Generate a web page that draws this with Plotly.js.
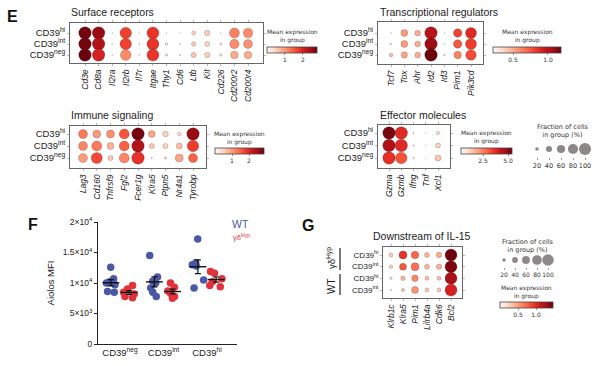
<!DOCTYPE html>
<html><head><meta charset="utf-8">
<script src="https://cdn.plot.ly/plotly-3.0.1.min.js"></script>
<style>html,body{margin:0;padding:0;background:#fff}#chart{width:609px;height:366px}</style>
</head><body><div id="chart"></div>
<script>
// ---------------- DATA ----------------
const rowsE = ['CD39<sup>hi</sup>', 'CD39<sup>int</sup>', 'CD39<sup>neg</sup>'];

const surfGenes = ['Cd3e','Cd8a','Il2ra','Il2rb','Il7r','Itgae','Thy1','Cd6','Ltb','Kit','Cd226','Cd200r2','Cd200r4'];
const surfMean = [
  [2.7, 2.5, 0.1, 1.7, 0.1, 1.8, 0.2, 0.1, 0.5, 0.5, 0.2, 1.2, 1.1],
  [2.7, 2.3, 0.1, 1.7, 0.1, 1.8, 0.3, 0.1, 0.55, 0.45, 0.3, 1.1, 1.05],
  [2.75, 2.0, 0.1, 1.1, 0.1, 1.8, 0.3, 0.2, 0.6, 0.5, 0.3, 0.85, 0.85]
];
const surfFrac = [
  [100, 100, 3, 90, 2, 95, 3, 2, 22, 35, 2, 75, 70],
  [100, 100, 3, 90, 4, 95, 12, 4, 25, 30, 10, 68, 65],
  [100, 100, 3, 82, 3, 95, 12, 5, 30, 32, 12, 52, 52]
];

const tfGenes = ['Tcf7','Tox','Ahr','Id2','Id3','Pim1','Pik3cd'];
const tfMean = [
  [0.25, 0.55, 0.5, 1.0, 0.25, 0.8, 0.88],
  [0.3, 0.55, 0.5, 1.08, 0.28, 0.75, 0.82],
  [0.45, 0.52, 0.5, 1.18, 0.35, 0.62, 0.78]
];
const tfFrac = [
  [3, 45, 35, 100, 2, 60, 85],
  [6, 45, 35, 100, 3, 60, 85],
  [20, 40, 35, 100, 7, 50, 80]
];

const imGenes = ['Lag3','Cd160','Tnfrsf9','Fgl2','Fcer1g','Klra5','Ptpn5','Nr4a1','Tyrobp'];
const imMean = [
  [1.3, 1.0, 1.1, 1.6, 2.8, 0.9, 0.5, 0.4, 2.6],
  [1.2, 1.3, 0.8, 1.5, 2.4, 0.6, 0.5, 0.7, 1.8],
  [1.0, 1.7, 0.6, 1.2, 1.9, 0.3, 0.4, 0.9, 1.5]
];
const imFrac = [
  [65, 55, 55, 75, 100, 45, 35, 20, 100],
  [65, 75, 45, 75, 100, 30, 30, 38, 90],
  [65, 85, 30, 75, 100, 5, 10, 55, 65]
];

const efGenes = ['Gzma','Gzmb','Ifng','Tnf','Xcl1'];
const efMean = [
  [5.2, 3.8, 0.5, 0.4, 1.0],
  [4.6, 3.8, 0.6, 0.4, 1.2],
  [3.7, 3.2, 0.6, 0.4, 1.4]
];
const efFrac = [
  [100, 100, 5, 2, 18],
  [100, 100, 6, 2, 30],
  [100, 90, 6, 2, 38]
];

const legendFractions = [20, 40, 60, 80, 100];

// Panel F: Aiolos MFI
const fCategories = ['CD39<sup>neg</sup>', 'CD39<sup>int</sup>', 'CD39<sup>hi</sup>'];
const aiolosWT = [
  [12600, 10700, 10200, 10000, 9700, 8600, 8500],
  [14500, 11000, 10300, 10000, 9200, 8500, 7800],
  [17200, 13300, 13000, 12800, 10500, 9200]
];
const aiolosHyp = [
  [9600, 9000, 8500, 8200, 7800, 7600],
  [10000, 9300, 8700, 8300, 7800, 7500],
  [11900, 11600, 10700, 10200, 9600, 9400]
];

// Panel G: Downstream of IL-15
const gGenes = ['Klrb1c','Klra5','Pim1','Lilrb4a','Cdk6','Bcl2'];
const gRows = ['CD39<sup>hi</sup>', 'CD39<sup>int</sup>', 'CD39<sup>hi</sup>', 'CD39<sup>int</sup>'];
const gMean = [
  [0.3, 0.95, 0.75, 0.4, 0.45, 1.45],
  [0.3, 0.8, 0.7, 0.4, 0.4, 1.4],
  [0.2, 0.4, 0.6, 0.35, 0.35, 1.25],
  [0.15, 0.35, 0.55, 0.3, 0.3, 1.05]
];
const gFrac = [
  [23, 58, 53, 31, 35, 100],
  [19, 49, 58, 31, 35, 100],
  [12, 27, 44, 23, 23, 100],
  [6, 16, 49, 23, 23, 100]
];

// ---------------- STYLE / LAYOUT ----------------
const W = 609, H = 366;
const X = p => p / W;
const Y = p => 1 - p / H;
const REDS = [[0,'#fff5f0'],[0.125,'#fee0d2'],[0.25,'#fcbba1'],[0.375,'#fc9272'],[0.5,'#fb6a4a'],[0.625,'#ef3b2c'],[0.75,'#cb181d'],[0.875,'#a50f15'],[1,'#67000d']];
const BLUE = '#4a58a6', RED = '#e3313c';
const SMALLFONT = 'DejaVu Sans';

function dotSize(frac, maxD) { return maxD * Math.pow(frac / 100, 0.75); }

const traces = [];
const layout = {
  width: W, height: H, margin: {l:0, r:0, t:0, b:0},
  paper_bgcolor: '#fff', plot_bgcolor: 'rgba(0,0,0,0)',
  showlegend: false, boxmode: 'overlay',
  font: {family: 'Liberation Sans, Arial, sans-serif', color: '#222'},
  annotations: [], shapes: []
};

function axRange(lo, hi, first, last, n) {
  const s = (last - first) / (n - 1);
  return [-(first - lo) / s, (n - 1) + (hi - last) / s];
}

function dotPanel(k, genes, rowLabels, mean, frac, g, cb, maxD, rowFont) {
  const xa = 'xaxis' + (k === 1 ? '' : k), ya = 'yaxis' + (k === 1 ? '' : k);
  const xs = 'x' + (k === 1 ? '' : k), ys = 'y' + (k === 1 ? '' : k);
  const xr = axRange(g.l, g.r, g.c0, g.c1, genes.length);
  const yr0 = axRange(g.t, g.b, g.r0, g.r1, rowLabels.length);
  layout[xa] = {
    domain: [X(g.l), X(g.r)], range: xr, anchor: ys,
    tickmode: 'array', tickvals: genes.map((_, i) => i),
    ticktext: genes.map(s => '<i>' + s + '</i>'),
    tickangle: -90, tickfont: {size: 8.5, color: '#222'},
    showline: true, mirror: 'ticks', linecolor: '#666', linewidth: 1,
    ticks: 'outside', ticklen: 2, tickcolor: '#888', tickwidth: 0.6,
    showgrid: false, zeroline: false, fixedrange: true
  };
  layout[ya] = {
    domain: [Y(g.b), Y(g.t)], range: [yr0[1], yr0[0]], anchor: xs,
    tickmode: 'array', tickvals: rowLabels.map((_, i) => i), ticktext: rowLabels,
    tickfont: {size: rowFont, color: '#222'},
    showline: true, mirror: 'ticks', linecolor: '#666', linewidth: 1,
    ticks: 'outside', ticklen: 2, tickcolor: '#888', tickwidth: 0.6,
    showgrid: false, zeroline: false, fixedrange: true
  };
  const x = [], y = [], c = [], s = [];
  mean.forEach((row, r) => row.forEach((v, i) => {
    x.push(i); y.push(r); c.push(v); s.push(dotSize(frac[r][i], maxD));
  }));
  traces.push({
    type: 'scatter', mode: 'markers', xaxis: xs, yaxis: ys, x, y,
    hoverinfo: 'skip', cliponaxis: false,
    marker: {
      color: c, cmin: cb.cmin, cmax: cb.cmax, colorscale: REDS, size: s,
      line: {width: 0.4, color: 'rgba(0,0,0,0.45)'}, opacity: 1,
      showscale: true,
      colorbar: {
        orientation: 'h', x: X(cb.x), xanchor: 'left', y: Y(cb.y), yanchor: 'top',
        len: cb.len, lenmode: 'pixels', thickness: 6, thicknessmode: 'pixels',
        xpad: 0, ypad: 0, outlinewidth: 0.8, outlinecolor: '#444',
        tickmode: 'array', tickvals: cb.ticks, ticktext: cb.ticktext,
        ticks: 'outside', ticklen: 2, tickwidth: 0.6, tickcolor: '#444',
        tickfont: {size: 6, family: SMALLFONT, color: '#333'}, title: {text: ''}
      }
    }
  });
  layout.annotations.push({
    xref: 'paper', yref: 'paper', x: X(cb.x + cb.len / 2), y: Y(cb.ty),
    xanchor: 'center', yanchor: 'middle', showarrow: false,
    text: 'Mean expression<br>in group', font: {size: 6, family: SMALLFONT, color: '#333'}
  });
}

// Panel E dotplots
dotPanel(1, surfGenes, rowsE, surfMean, surfFrac,
  {l:70, r:263, t:23, b:63, c0:85, c1:248, r0:33, r1:55},
  {cmin:0, cmax:2.78, x:267, y:47, len:50, ty:36, ticks:[1,2], ticktext:['1','2']}, 12.5, 9.5);
dotPanel(2, tfGenes, rowsE, tfMean, tfFrac,
  {l:378, r:483, t:22, b:64, c0:391, c1:471, r0:33, r1:55},
  {cmin:0.214, cmax:1.186, x:493, y:47, len:68, ty:36, ticks:[0.5,1.0], ticktext:['0.5','1.0']}, 12.5, 9.5);
dotPanel(3, imGenes, rowsE, imMean, imFrac,
  {l:70, r:206, t:126, b:168, c0:83, c1:193, r0:134, r1:158},
  {cmin:0, cmax:2.88, x:215, y:148, len:49, ty:138, ticks:[1,2], ticktext:['1','2']}, 12.5, 9.5);
dotPanel(4, efGenes, rowsE, efMean, efFrac,
  {l:378, r:450, t:125, b:168, c0:389, c1:438, r0:133, r1:158},
  {cmin:0.3, cmax:5.4, x:461, y:148, len:51, ty:136.5, ticks:[2.5,5.0], ticktext:['2.5','5.0']}, 12.5, 9.5);

// Panel G dotplot
dotPanel(7, gGenes, gRows, gMean, gFrac,
  {l:383, r:462, t:247, b:298, c0:391, c1:451, r0:255, r1:290},
  {cmin:0, cmax:1.47, x:500, y:302, len:53, ty:291.5, ticks:[0.5,1.0], ticktext:['0.5','1.0']}, 12, 8);

// Size legends
function sizeLegend(k, dom, first, last, yTop, yBot, maxD, titleX, titleY, fs) {
  const xs = 'x' + k, ys = 'y' + k;
  const s = (last - first) / 80;
  layout['xaxis' + k] = {
    domain: [X(dom[0]), X(dom[1])], range: [20 - (first - dom[0]) / s, 20 + (dom[1] - first) / s],
    anchor: ys, tickmode: 'array', tickvals: legendFractions, ticks: 'outside', ticklen: 2,
    tickwidth: 0.6, tickcolor: '#555', showline: false, showgrid: false, zeroline: false,
    tickangle: 0, tickfont: {size: fs, family: SMALLFONT, color: '#333'}, fixedrange: true
  };
  layout['yaxis' + k] = {domain: [Y(yBot), Y(yTop)], range: [-1, 1], visible: false, fixedrange: true};
  traces.push({
    type: 'scatter', mode: 'markers', xaxis: xs, yaxis: ys,
    x: legendFractions, y: legendFractions.map(() => 0), hoverinfo: 'skip', cliponaxis: false,
    marker: {color: '#5b5555', size: legendFractions.map(f => dotSize(f, maxD)), line: {width: 0}}
  });
  layout.annotations.push({
    xref: 'paper', yref: 'paper', x: X(titleX), y: Y(titleY), xanchor: 'center', yanchor: 'middle',
    showarrow: false, text: 'Fraction of cells<br>in group (%)',
    font: {size: 6.5, family: SMALLFONT, color: '#333'}
  });
}
sizeLegend(5, [530, 592], 537, 585, 141, 157, 12, 563, 130.5, 6.5);
sizeLegend(8, [497, 556], 504, 548, 253, 267, 11.5, 528, 245.5, 6);

// Panel F
const fPos = fCategories.map((_, i) => i);
const off = 0.21;
function mean(a) { return a.reduce((p, v) => p + v, 0) / a.length; }
function sem(a) {
  const m = mean(a);
  const sd = Math.sqrt(a.reduce((p, v) => p + (v - m) * (v - m), 0) / (a.length - 1));
  return sd / Math.sqrt(a.length);
}
[[aiolosWT, -off, BLUE], [aiolosHyp, off, RED]].forEach(([grp, o, col]) => {
  const xs = [], ys = [];
  grp.forEach((vals, i) => vals.forEach(v => { xs.push(fPos[i] + o); ys.push(v); }));
  traces.push({
    type: 'box', xaxis: 'x6', yaxis: 'y6', x: xs, y: ys, boxpoints: 'all', jitter: 1, pointpos: 0,
    width: 0.3, whiskerwidth: 0, fillcolor: 'rgba(0,0,0,0)', line: {color: 'rgba(0,0,0,0)', width: 0},
    marker: {color: col, size: 7.5, line: {width: 0}}, hoverinfo: 'skip'
  });
  traces.push({
    type: 'scatter', mode: 'markers', xaxis: 'x6', yaxis: 'y6',
    x: fPos.map(p => p + o), y: grp.map(mean), hoverinfo: 'skip', cliponaxis: false,
    marker: {symbol: 'line-ew', size: 12, color: '#111', line: {width: 1.4, color: '#111'}},
    error_y: {type: 'data', array: grp.map(sem), thickness: 1.2, width: 3, color: '#111'}
  });
});
layout.xaxis6 = {
  domain: [X(98), X(237)], range: [-0.506, 2.69], anchor: 'y6',
  tickmode: 'array', tickvals: fPos, ticktext: fCategories, ticks: '',
  tickfont: {size: 9.5, color: '#222'}, showline: true, linecolor: '#222', linewidth: 1,
  showgrid: false, zeroline: false, fixedrange: true
};
layout.yaxis6 = {
  domain: [Y(344), Y(222)], range: [0, 20000], anchor: 'x6',
  tickmode: 'array', tickvals: [0, 5000, 10000, 15000, 20000],
  ticktext: ['0', '5×10<sup>3</sup>', '1×10<sup>4</sup>', '1.5×10<sup>4</sup>', '2×10<sup>4</sup>'],
  ticks: 'outside', ticklen: 3, tickwidth: 1, tickcolor: '#222',
  tickfont: {size: 8.5, color: '#222'}, showline: true, linecolor: '#222', linewidth: 1,
  showgrid: false, zeroline: false, fixedrange: true,
  title: {text: 'Aiolos MFI', font: {size: 9.5, color: '#222'}, standoff: 6}
};

// Text annotations
const ann = (text, x, y, opts) => layout.annotations.push(Object.assign({
  xref: 'paper', yref: 'paper', x: X(x), y: Y(y), text, showarrow: false,
  xanchor: 'left', yanchor: 'middle'
}, opts || {}));
ann('<b>E</b>', 5, 16, {font: {size: 16, color: '#111'}});
ann('<b>F</b>', 26, 224, {font: {size: 16, color: '#111'}});
ann('<b>G</b>', 300, 225, {font: {size: 16, color: '#111'}});
ann('Surface receptors', 69, 12, {font: {size: 10.5, color: '#222'}});
ann('Transcriptional regulators', 378, 12, {font: {size: 10.5, color: '#222'}});
ann('Immune signaling', 69, 115, {font: {size: 10.5, color: '#222'}});
ann('Effector molecules', 378, 115, {font: {size: 10.5, color: '#222'}});
ann('Downstream of IL-15', 422, 236, {xanchor: 'center', font: {size: 10.5, color: '#222'}});
ann('WT', 230, 224.5, {font: {size: 10.5, color: BLUE}});
ann('γδ<sup>Hyp</sup>', 231, 237, {font: {size: 7.5, color: RED}});
ann('γδ<sup>Hyp</sup>', 331, 258, {xanchor: 'center', textangle: -90, font: {size: 9.5, color: '#222'}});
ann('WT', 331, 286, {xanchor: 'center', textangle: -90, font: {size: 10, color: '#222'}});

layout.shapes.push(
  {type: 'line', xref: 'paper', yref: 'paper', x0: X(340), x1: X(340), y0: Y(248), y1: Y(270), line: {color: '#222', width: 1.2}},
  {type: 'line', xref: 'paper', yref: 'paper', x0: X(340), x1: X(340), y0: Y(274), y1: Y(295), line: {color: '#222', width: 1.2}}
);

Plotly.newPlot('chart', traces, layout, {displayModeBar: false, staticPlot: true});
</script></body></html>
